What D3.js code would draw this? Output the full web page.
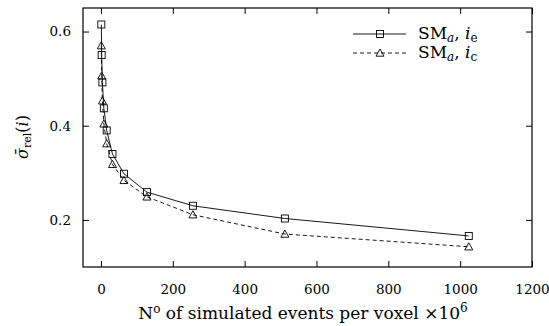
<!DOCTYPE html>
<html>
<head>
<meta charset="utf-8">
<script src="https://cdn.jsdelivr.net/npm/d3@7"></script>
<style>
  body { margin: 0; background: #fff; }
  svg text { font-family: "DejaVu Serif", "Liberation Serif", serif; fill: #000; }
  .axis line { stroke: #000; }
</style>
</head>
<body>
<script>
(function () {

  // events per voxel (x 10^6)
  let events = [1, 2, 4, 8, 16, 32, 64, 128, 256, 512, 1024];
  // SM_a, i_e (squares, solid)
  let sigmaE = [0.615, 0.55, 0.492, 0.437, 0.39, 0.34, 0.298, 0.259, 0.23, 0.203, 0.166];
  // SM_a, i_c (triangles, dashed)
  let sigmaC = [0.570, 0.506, 0.453, 0.404, 0.362, 0.318, 0.284, 0.249, 0.211, 0.170, 0.143];

  let xTicks = [0, 200, 400, 600, 800, 1000, 1200];
  let yTicks = [0.2, 0.4, 0.6];

  let width = 549, height = 326;
  let margin = { top: 8, right: 17, bottom: 59, left: 83 };
  let w = width - margin.left - margin.right;
  let h = height - margin.top - margin.bottom;

  let svg = d3.select('body').append('svg')
      .attr('width', width)
      .attr('height', height);

  let g = svg.append('g')
      .attr('transform', 'translate(' + margin.left + ',' + margin.top + ')');

  let x = d3.scaleLinear().domain([-50, 1200]).range([0, w]);
  let y = d3.scaleLinear().domain([0.1, 0.65]).range([h, 0]);

  // frame
  g.append('rect')
    .attr('width', w).attr('height', h)
    .attr('fill', 'none').attr('stroke', '#000').attr('stroke-width', 1.2);

  // axes, ticks pointing inward
  g.append('g').attr('class', 'axis')
    .attr('transform', 'translate(0,' + h + ')')
    .call(d3.axisBottom(x).tickValues(xTicks).tickSize(-6).tickPadding(17).tickFormat(d3.format('d')));
  g.append('g').attr('class', 'axis')
    .call(d3.axisTop(x).tickValues(xTicks).tickSize(-6).tickFormat(''));
  g.append('g').attr('class', 'axis')
    .call(d3.axisLeft(y).tickValues(yTicks).tickSize(-6).tickPadding(12).tickFormat(d3.format('.1f')));
  g.append('g').attr('class', 'axis')
    .attr('transform', 'translate(' + w + ',0)')
    .call(d3.axisRight(y).tickValues(yTicks).tickSize(-6).tickFormat(''));

  g.selectAll('.axis path').remove();
  g.selectAll('.axis text').style('font-size', '13.5px');

  // lines
  function series(vals) { return events.map(function (e, i) { return [e, vals[i]]; }); }
  let line = d3.line().x(function (d) { return x(d[0]); }).y(function (d) { return y(d[1]); });

  g.append('path').datum(series(sigmaE))
    .attr('d', line).attr('fill', 'none').attr('stroke', '#000').attr('stroke-width', 0.9);
  g.append('path').datum(series(sigmaC))
    .attr('d', line).attr('fill', 'none').attr('stroke', '#000').attr('stroke-width', 0.9)
    .attr('stroke-dasharray', '4,3');

  let sq = 7, tri = 4;
  function square(sel) {
    sel.append('rect')
      .attr('x', -sq / 2).attr('y', -sq / 2).attr('width', sq).attr('height', sq)
      .attr('fill', 'none').attr('stroke', '#000').attr('stroke-width', 0.9);
  }
  function triangle(sel) {
    sel.append('path')
      .attr('d', 'M0,' + (-tri) + 'L' + tri + ',' + (tri * 0.8) + 'L' + (-tri) + ',' + (tri * 0.8) + 'Z')
      .attr('fill', 'none').attr('stroke', '#000').attr('stroke-width', 0.9);
  }

  g.selectAll('g.sq').data(series(sigmaE)).enter().append('g')
    .attr('class', 'sq')
    .attr('transform', function (d) { return 'translate(' + x(d[0]) + ',' + y(d[1]) + ')'; })
    .call(square);
  g.selectAll('g.tri').data(series(sigmaC)).enter().append('g')
    .attr('class', 'tri')
    .attr('transform', function (d) { return 'translate(' + x(d[0]) + ',' + y(d[1]) + ')'; })
    .call(triangle);

  // legend
  let legend = svg.append('g').attr('transform', 'translate(353,34)');
  let rows = [
    { dash: null, mark: square, sub: 'e' },
    { dash: '4,3', mark: triangle, sub: 'c' }
  ];
  rows.forEach(function (r, i) {
    let row = legend.append('g').attr('transform', 'translate(0,' + (i * 19) + ')');
    row.append('line').attr('x1', 0).attr('x2', 53)
      .attr('stroke', '#000').attr('stroke-width', 0.9)
      .attr('stroke-dasharray', r.dash);
    row.append('g').attr('transform', 'translate(27,0)').call(r.mark);
    let t = row.append('text').attr('x', 65).attr('y', 5).style('font-size', '17px');
    t.append('tspan').text('SM');
    t.append('tspan').attr('font-style', 'italic').style('font-size', '12px').attr('dy', 3).text('a');
    t.append('tspan').attr('dy', -3).text(', ');
    t.append('tspan').attr('font-style', 'italic').text('i');
    t.append('tspan').style('font-size', '12px').attr('dy', 3).text(r.sub);
  });

  // x label
  let xl = svg.append('text')
    .attr('x', 303).attr('y', 319)
    .attr('text-anchor', 'middle').style('font-size', '17px');
  xl.append('tspan').text('N');
  xl.append('tspan').style('font-size', '12px').attr('dy', -6).text('o');
  xl.append('tspan').attr('dy', 6).text(' of simulated events per voxel \u00d710');
  xl.append('tspan').style('font-size', '12px').attr('dy', -7).text('6');

  // y label
  let yl = svg.append('text')
    .attr('transform', 'translate(28,137) rotate(-90)')
    .attr('text-anchor', 'middle').style('font-size', '16px');
  yl.append('tspan').attr('font-style', 'italic').text('\u03c3\u0304');
  yl.append('tspan').style('font-size', '11px').attr('dy', 3).text('rel');
  yl.append('tspan').attr('dy', -3).text('(');
  yl.append('tspan').attr('font-style', 'italic').text('i');
  yl.append('tspan').text(')');

})();
</script>
</body>
</html>
